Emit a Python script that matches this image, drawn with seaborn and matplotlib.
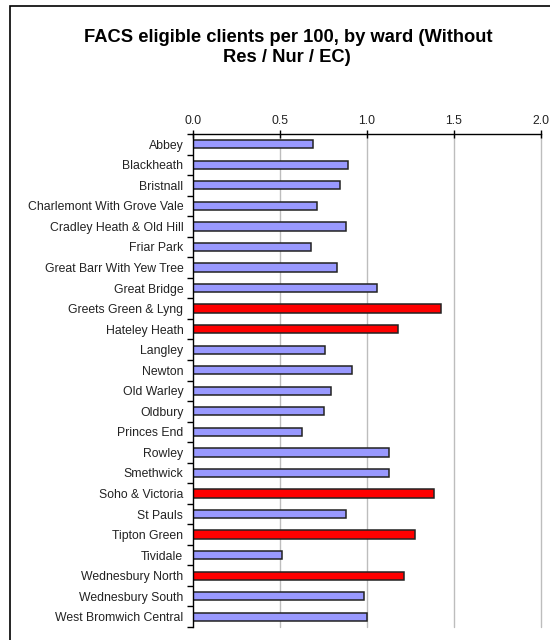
import numpy as np
import pandas as pd
import matplotlib
matplotlib.use('Agg')
import matplotlib.pyplot as plt
import seaborn as sns
from matplotlib.patches import Rectangle

# Data
wards = ['Abbey', 'Blackheath', 'Bristnall', 'Charlemont With Grove Vale',
         'Cradley Heath & Old Hill', 'Friar Park', 'Great Barr With Yew Tree',
         'Great Bridge', 'Greets Green & Lyng', 'Hateley Heath', 'Langley',
         'Newton', 'Old Warley', 'Oldbury', 'Princes End', 'Rowley',
         'Smethwick', 'Soho & Victoria', 'St Pauls', 'Tipton Green',
         'Tividale', 'Wednesbury North', 'Wednesbury South',
         'West Bromwich Central']
rates = [0.69, 0.89, 0.845, 0.714, 0.877, 0.68, 0.825, 1.06, 1.425, 1.177,
         0.761, 0.915, 0.793, 0.755, 0.628, 1.125, 1.125, 1.386, 0.877,
         1.276, 0.513, 1.211, 0.984, 1.0]
highlighted = ['Greets Green & Lyng', 'Hateley Heath', 'Soho & Victoria',
               'Tipton Green', 'Wednesbury North']
x_ticks = [0.0, 0.5, 1.0, 1.5, 2.0]

df = pd.DataFrame({'ward': wards, 'rate': rates})
df['group'] = np.where(df['ward'].isin(highlighted), 'high', 'normal')

sns.set_style('white')
plt.rcParams['font.family'] = ['Liberation Sans', 'DejaVu Sans']

fig = plt.figure(figsize=(5.5, 6.4), dpi=100)
ax = fig.add_axes([193 / 550, 1 - 627 / 640, 348 / 550, 493 / 640])

sns.barplot(data=df, x='rate', y='ward', hue='group', orient='h',
            palette={'normal': '#9999FF', 'high': '#FF0000'}, saturation=1,
            width=0.4, edgecolor='#222222', linewidth=1.1,
            dodge=False, legend=False, ax=ax)

ax.set_xlim(0, 2.0)
ax.set_ylim(len(wards) - 0.5, -0.5)
ax.set_xticks(x_ticks)
ax.set_xticklabels([f'{t:.1f}' for t in x_ticks])
ax.xaxis.tick_top()
ax.set_xlabel('')
ax.set_ylabel('')

for t in x_ticks[1:]:
    ax.axvline(t, color='#BDBDBD', lw=1.0, zorder=0, clip_on=False)

for side in ['right', 'bottom']:
    ax.spines[side].set_visible(False)
for side in ['left', 'top']:
    ax.spines[side].set_color('black')
    ax.spines[side].set_linewidth(1.0)

ax.tick_params(axis='x', which='major', top=True, direction='inout', length=6,
               width=1, color='black', labelsize=8.8, pad=2, labelcolor='#222222')
ax.tick_params(axis='y', which='major', left=False, length=0, labelsize=8.8,
               pad=7, labelcolor='#222222')
ax.set_yticks(np.arange(-0.5, len(wards), 1.0), minor=True)
ax.tick_params(axis='y', which='minor', left=True, direction='out', length=4,
               width=1, color='black')

fig.text(0.524, 1 - 37 / 640, 'FACS eligible clients per 100, by ward (Without',
         ha='center', va='center', fontsize=13.2, fontweight='bold', color='black')
fig.text(0.522, 1 - 58 / 640, 'Res / Nur / EC)',
         ha='center', va='center', fontsize=13.2, fontweight='bold', color='black')

# chart frame (top and left edges visible in the reference)
fig.patches.append(Rectangle((10 / 550, -0.1), 1.2, 1 - 6 / 640 + 0.1,
                             transform=fig.transFigure, fill=False,
                             edgecolor='black', linewidth=1.2))

fig.savefig('out.png', dpi=100)
plt.close(fig)
